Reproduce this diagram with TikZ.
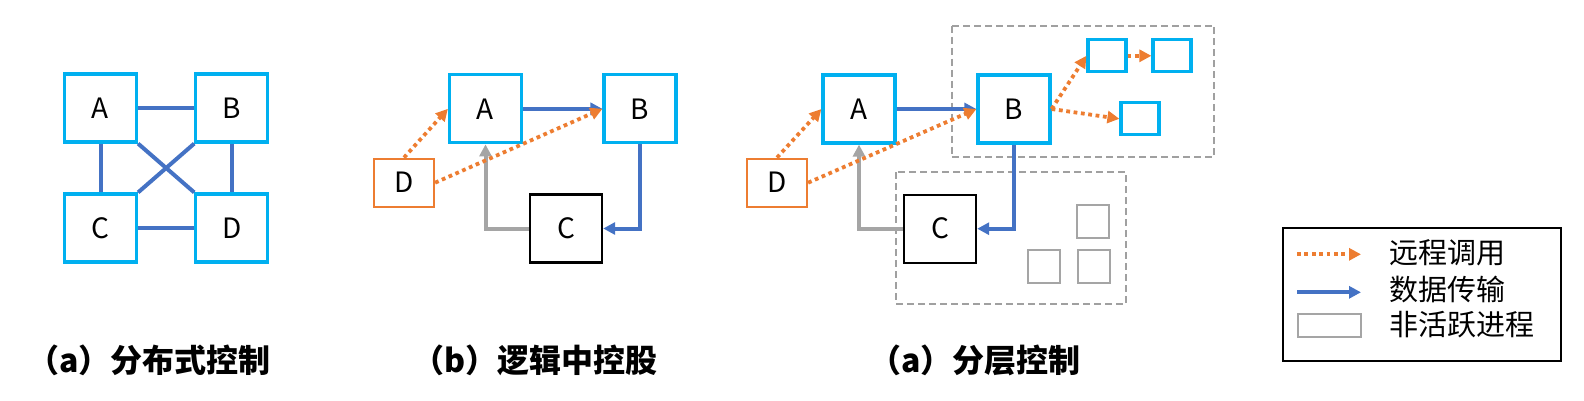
\documentclass[tikz,border=0pt]{standalone}
\usepackage{fontspec}
\setmainfont{Noto Sans CJK SC}
\usetikzlibrary{arrows.meta,positioning}

\definecolor{cyanbox}{HTML}{00B0F0}
\definecolor{bluec}{HTML}{4472C4}
\definecolor{orangec}{HTML}{ED7D31}
\definecolor{grayc}{HTML}{A5A5A5}
\definecolor{dashc}{HTML}{A0A0A0}

\tikzset{
  proc/.style={draw=cyanbox, line width=3.2pt, minimum width=72pt, minimum height=68pt,
    inner sep=0pt, font=\fontsize{28}{28}\selectfont},
  ctrl/.style={proc, draw=black, line width=2.4pt},
  caller/.style={draw=orangec, line width=2.2pt, minimum width=60pt, minimum height=48pt,
    inner sep=0pt, font=\fontsize{28}{28}\selectfont},
  subproc/.style={draw=cyanbox, line width=3.2pt, minimum width=38pt, minimum height=32pt, inner sep=0pt},
  idle/.style={draw=grayc, line width=2.2pt, minimum width=32pt, minimum height=33pt, inner sep=0pt},
  link/.style={draw=bluec, line width=4pt},
  data/.style={link, -{Triangle[length=12pt,width=12pt]}},
  back/.style={draw=grayc, line width=4pt, -{Triangle[length=12pt,width=12pt]}},
  call/.style={draw=orangec, line width=3.8pt, dash pattern=on 3.8pt off 3.6pt,
    -{Triangle[length=12pt,width=12pt]}},
  group/.style={draw=dashc, line width=1.8pt, dash pattern=on 7pt off 4pt},
  caption/.style={anchor=east, inner sep=0pt, font=\fontsize{32}{32}\selectfont\bfseries},
  legtext/.style={anchor=west, inner sep=0pt, font=\fontsize{29}{29}\selectfont},
}

\begin{document}
\begin{tikzpicture}[x=1pt, y=-1pt, line join=miter]
  \useasboundingbox (0,0) rectangle (1584,400);

  % (a) distributed
  \node[proc] (a1) at (100.5,108) {A};
  \node[proc] (b1) at (231.8,108) {B};
  \node[proc] (c1) at (100.5,228) {C};
  \node[proc] (d1) at (231.8,228) {D};
  \draw[link] (a1) -- (b1);
  \draw[link] (c1) -- (d1);
  \draw[link] (a1) -- (c1);
  \draw[link] (b1) -- (d1);
  \draw[link] (a1.south east) -- (d1.north west);
  \draw[link] (c1.north east) -- (b1.south west);
  \node[caption] (cap1) at (271,360) {（a）分布式控制};

  % (b) logical central
  \node[proc] (a2) at (485.5,108.8) {A};
  \node[proc] (b2) at (640,108.8) {B};
  \node[ctrl] (c2) at (566,228.5) {C};
  \node[caller] (d2) at (404,182.7) {D};
  \draw[data] (a2) -- (b2);
  \draw[data] (b2.south) |- (c2.east);
  \draw[back] (c2.west) -| (a2.south);
  \draw[call] (d2.north) -- (a2.west);
  \draw[call] (d2.east) -- (b2.west);
  \node[caption] (cap2) at (658,360) {（b）逻辑中控股};

  % (c) layered
  \draw[group] (951.7,25.7) rectangle (1214,157.3);
  \draw[group] (895.7,172.3) rectangle (1126,304);
  \node[proc] (a3) at (859,109) {A};
  \node[proc] (b3) at (1014,109) {B};
  \node[ctrl] (c3) at (940,228.7) {C};
  \node[caller] (d3) at (777,182.7) {D};
  \node[subproc] (s1) at (1107,55.8) {};
  \node[subproc] (s2) at (1172,55.8) {};
  \node[subproc] (s3) at (1140,118.8) {};
  \node[idle] (i1) at (1093,221.5) {};
  \node[idle] (i2) at (1044,266.5) {};
  \node[idle] (i3) at (1094,266.5) {};
  \draw[data] (a3) -- (b3);
  \draw[data] (b3.south) |- (c3.east);
  \draw[back] (c3.west) -| (a3.south);
  \draw[call] (d3.north) -- (a3.west);
  \draw[call] (d3.east) -- (b3.west);
  \draw[call] (b3.east) -- (s1.west);
  \draw[call] (b3.east) -- (s3.west);
  \draw[call] (s1) -- (s2);
  \node[caption] (cap3) at (1081,360) {（a）分层控制};

  % legend
  \draw[line width=2pt] (1282.7,227.7) rectangle (1560.7,361);
  \coordinate (lc0) at (1297,254.3);
  \coordinate (lc1) at (1361,254.3);
  \coordinate (ld0) at (1297,292.3);
  \coordinate (ld1) at (1361,292.3);
  \draw[call] (lc0) -- (lc1);
  \draw[data] (ld0) -- (ld1);
  \node[idle, minimum width=63pt, minimum height=23pt] (lidle) at (1329.7,325.2) {};
  \node[legtext] (lcall) at (1389,253) {远程调用};
  \node[legtext] (ldata) at (1389,289) {数据传输};
  \node[legtext] (lidl) at (1389,325) {非活跃进程};
\end{tikzpicture}
\end{document}
